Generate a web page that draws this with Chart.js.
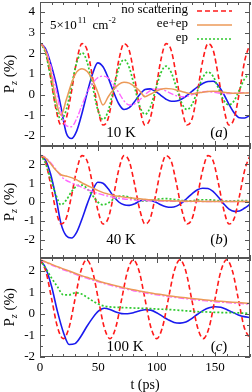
<!DOCTYPE html>
<html>
<head>
<meta charset="utf-8">
<script src="https://cdn.jsdelivr.net/npm/chart.js@4.4.1/dist/chart.umd.min.js"></script>
<style>
  body { margin: 0; background: #fff; width: 252px; height: 392px; position: relative; overflow: hidden; }
  canvas { position: absolute; left: 0; }
</style>
</head>
<body>
<!-- the y axis keeps ~5.65px above/below the plot, so canvases are shifted to put plot edges at 2/146/258/357 -->
<canvas id="chartA" width="252" height="156" style="top:-4px"></canvas>
<canvas id="chartB" width="252" height="124" style="top:140px"></canvas>
<canvas id="chartC" width="252" height="140" style="top:252px"></canvas>
<script>
// time axis (ps)
const tAB = [0,4.5,9,13.5,18,22.5,27,31.5,36,40.5,45,49.5,54,58.5,63,67.5,72,76.5,81,85.5,90,94.5,99,103.5,108,112.5,117,121.5,126,130.5,135,139.5,144,148.5,153,157.5,162,166.5,171,175.5,180];
const tC = [0,5,10,15,20,25,30,35,40,45,50,55,60,65,70,75,80,85,90,95,100,105,110,115,120,125,130,135,140,145,150,155,160,165,170,175,180];

const xTicks = [0, 50, 100, 150];
const yTicksA = [-2, -1, 0, 1, 2, 3, 4];
const yTicksB = [-2, -1, 0, 1, 2];
const yTicksC = [-2, -1, 0, 1, 2];

const seriesNames = ['no scattering', 'ee+ep', 'ep'];

// (a) 10 K
const redA = [2.5,2.14,0.85,-0.65,-1.47,-1.14,0.15,1.65,2.47,2.14,0.85,-0.65,-1.47,-1.14,0.15,1.65,2.47,2.14,0.85,-0.65,-1.47,-1.14,0.15,1.65,2.47,2.14,0.85,-0.65,-1.47,-1.14,0.15,1.65,2.47,2.14,0.85,-0.65,-1.47,-1.14,0.15,1.65,2.47];
const orangeA = [2.5,2.15,1.2,-0.2,-1.0,-0.25,0.55,1.1,1.26,1.12,0.72,0.12,-0.5,-0.1,0.25,0.5,0.6,0.56,0.4,0.18,-0.1,0.02,0.15,0.26,0.3,0.28,0.22,0.15,0.08,0.05,0.08,0.12,0.15,0.16,0.15,0.12,0.09,0.07,0.07,0.08,0.09];
const greenA = [2.5,2.05,0.9,-0.5,-1.2,-0.73,0.42,1.56,2.03,1.56,0.42,-0.73,-1.2,-0.78,0.25,1.28,1.7,1.31,0.38,-0.56,-0.95,-0.61,0.22,1.04,1.38,1.07,0.33,-0.41,-0.72,-0.45,0.19,0.83,1.1,0.87,0.3,-0.27,-0.5,-0.28,0.25,0.78,1.0];
const blueA = [2.5,2.25,1.55,0.6,-0.6,-1.85,-2.12,-1.75,-0.9,0.1,1.0,1.54,1.35,0.81,0.14,-0.44,-0.72,-0.63,-0.34,0.01,0.25,0.28,0.16,-0.03,-0.22,-0.32,-0.31,-0.21,-0.04,0.17,0.38,0.54,0.64,0.65,0.43,0.02,-0.47,-0.89,-1.12,-1.13,-1.0];
const magentaA = [2.5,2.2,1.45,0.3,-0.85,-1.5,-1.55,-1.15,-0.5,0.1,0.55,0.82,0.9,0.8,0.5,0.1,-0.3,-0.5,-0.45,-0.25,0.0,0.2,0.28,0.27,0.18,0.05,-0.05,-0.1,-0.08,0.0,0.08,0.14,0.15,0.12,0.08,0.05,0.05,0.07,0.09,0.1,0.1];

// (b) 40 K
const redB = [2.5,2.17,0.97,-0.41,-1.17,-0.87,0.33,1.71,2.47,2.17,0.97,-0.41,-1.17,-0.87,0.33,1.71,2.47,2.17,0.97,-0.41,-1.17,-0.87,0.33,1.71,2.47,2.17,0.97,-0.41,-1.17,-0.87,0.33,1.71,2.47,2.17,0.97,-0.41,-1.17,-0.87,0.33,1.71,2.47];
const orangeB = [2.5,2.35,2.05,1.7,1.45,1.38,1.3,1.18,1.02,0.88,0.75,0.62,0.5,0.42,0.35,0.3,0.26,0.22,0.2,0.17,0.14,0.12,0.1,0.08,0.07,0.06,0.05,0.05,0.04,0.04,0.04,0.03,0.03,0.03,0.03,0.03,0.03,0.03,0.03,0.03,0.03];
const greenB = [2.5,2.1,1.25,0.4,-0.15,0.1,0.55,0.85,0.9,0.7,0.35,0.0,-0.15,-0.05,0.15,0.3,0.32,0.25,0.15,0.07,0.05,0.08,0.13,0.17,0.18,0.16,0.12,0.08,0.06,0.07,0.1,0.12,0.12,0.1,0.07,0.05,0.05,0.06,0.08,0.08,0.07];
const blueB = [2.5,2.25,1.5,0.3,-1.15,-1.8,-1.92,-1.6,-0.9,-0.1,0.6,1.05,1.0,0.7,0.3,0.0,-0.15,-0.18,-0.1,0.05,0.12,0.1,0.0,-0.15,-0.25,-0.28,-0.22,-0.05,0.2,0.45,0.65,0.73,0.72,0.55,0.25,-0.1,-0.38,-0.5,-0.48,-0.32,-0.12];
const magentaB = [2.5,2.38,2.1,1.75,1.38,1.15,1.02,0.9,0.78,0.66,0.56,0.46,0.38,0.31,0.25,0.2,0.16,0.13,0.1,0.08,0.07,0.06,0.05,0.05,0.04,0.04,0.04,0.03,0.03,0.03,0.03,0.03,0.03,0.03,0.03,0.03,0.03,0.03,0.03,0.03,0.03];

// (c) 100 K
const redC = [2.5,1.97,0.68,-0.62,-1.15,-0.62,0.68,1.97,2.5,1.97,0.68,-0.62,-1.15,-0.62,0.68,1.97,2.5,1.97,0.68,-0.62,-1.15,-0.62,0.68,1.97,2.5,1.97,0.68,-0.62,-1.15,-0.62,0.68,1.97,2.5,1.97,0.68,-0.62,-1.15];
const orangeC = [2.5,2.4,2.29,2.18,2.08,1.98,1.88,1.78,1.69,1.61,1.52,1.44,1.37,1.3,1.23,1.17,1.11,1.06,1.01,0.96,0.92,0.88,0.84,0.8,0.77,0.74,0.71,0.68,0.65,0.63,0.6,0.58,0.56,0.54,0.52,0.5,0.48];
const greenC = [2.5,2.1,1.65,1.25,0.88,0.88,0.97,0.93,0.78,0.6,0.45,0.36,0.32,0.3,0.29,0.28,0.27,0.26,0.25,0.24,0.22,0.21,0.2,0.18,0.16,0.14,0.12,0.1,0.09,0.08,0.07,0.06,0.05,0.05,0.04,0.03,0.02];
const blueC = [2.5,2.1,1.25,0.1,-0.85,-1.42,-1.38,-1.05,-0.6,-0.2,0.12,0.26,0.2,0.08,0.01,0.0,0.05,0.13,0.19,0.17,0.05,-0.12,-0.28,-0.4,-0.43,-0.38,-0.22,-0.02,0.16,0.28,0.33,0.3,0.2,0.07,-0.05,-0.13,-0.17];
const magentaC = [2.5,2.38,2.26,2.15,2.04,1.94,1.84,1.74,1.65,1.56,1.48,1.4,1.33,1.26,1.19,1.13,1.07,1.02,0.97,0.92,0.88,0.84,0.8,0.76,0.73,0.7,0.67,0.64,0.61,0.59,0.56,0.54,0.52,0.5,0.48,0.46,0.44];

const SERIF = '"Liberation Serif", "DejaVu Serif", serif';
const RED = '#ff1a1a', ORANGE = '#ec9a58', GREEN = '#2ec82e', BLUE = '#1a1aee', MAGENTA = '#ff66ff';

const styles = {
    red:     { borderColor: RED, borderWidth: 1.6, borderDash: [5, 3] },
    orange:  { borderColor: ORANGE, borderWidth: 1.5, borderDash: [] },
    green:   { borderColor: GREEN, borderWidth: 1.7, borderDash: [2, 2] },
    blue:    { borderColor: BLUE, borderWidth: 1.6, borderDash: [] },
    magenta: { borderColor: MAGENTA, borderWidth: 1.4, borderDash: [6, 2, 2, 2] }
};

function toPoints(xs, ys) {
    return xs.map((t, i) => ({ x: t, y: ys[i] }));
}

// frame with inward ticks, plus the text drawn inside each panel
const panelDecor = {
    id: 'panelDecor',
    afterDatasetsDraw(chart, args, opts) {
        const { ctx, chartArea: a, scales: { x, y } } = chart;
        ctx.save();
        ctx.strokeStyle = '#555';
        ctx.lineWidth = 1;
        ctx.setLineDash([]);
        const top = Math.round(a.top), bot = Math.round(a.bottom);
        ctx.strokeRect(a.left + 0.5, top + 0.5, a.right - a.left - 1, bot - top - 1);
        ctx.beginPath();
        for (let v = 0; v <= 180; v += 10) {
            const px = Math.round(x.getPixelForValue(v)) + 0.5;
            const len = v % 50 === 0 ? 5 : 3;
            ctx.moveTo(px, top); ctx.lineTo(px, top + len);
            ctx.moveTo(px, bot); ctx.lineTo(px, bot - len);
        }
        for (let v = Math.ceil(y.min * 2) / 2; v <= y.max; v += 0.5) {
            const py = Math.round(y.getPixelForValue(v)) + 0.5;
            const len = Number.isInteger(v) ? 5 : 3;
            ctx.moveTo(a.left, py); ctx.lineTo(a.left + len, py);
            ctx.moveTo(a.right, py); ctx.lineTo(a.right - len, py);
        }
        ctx.stroke();

        ctx.fillStyle = '#000';
        ctx.textBaseline = 'middle';
        // temperature + panel tag
        ctx.font = '15px ' + SERIF;
        ctx.textAlign = 'center';
        ctx.fillText(opts.temp, opts.tempX, opts.textY);
        ctx.textAlign = 'left';
        const w1 = ctx.measureText('(').width;
        ctx.font = 'italic 15px ' + SERIF;
        const w2 = ctx.measureText(opts.tag).width;
        let tx = opts.tagX - (w1 * 2 + w2) / 2;
        ctx.font = '15px ' + SERIF;
        ctx.fillText('(', tx, opts.textY);
        ctx.font = 'italic 15px ' + SERIF;
        ctx.fillText(opts.tag, tx + w1, opts.textY);
        ctx.font = '15px ' + SERIF;
        ctx.fillText(')', tx + w1 + w2, opts.textY);

        // y axis title P_z (%)
        ctx.save();
        ctx.translate(10, (a.top + a.bottom) / 2);
        ctx.rotate(-Math.PI / 2);
        ctx.font = '15px ' + SERIF;
        const wp = ctx.measureText('P').width;
        ctx.font = 'italic 10px ' + SERIF;
        const wz = ctx.measureText('z').width;
        ctx.font = '15px ' + SERIF;
        const wr = ctx.measureText(' (%)').width;
        let sx = -(wp + wz + wr) / 2;
        ctx.fillText('P', sx, 0);
        ctx.font = 'italic 10px ' + SERIF;
        ctx.fillText('z', sx + wp, 4);
        ctx.font = '15px ' + SERIF;
        ctx.fillText(' (%)', sx + wp + wz, 0);
        ctx.restore();

        ctx.restore();
    }
};

// legend and density label, top panel only (canvas A sits 4px above the page)
const topNotes = {
    id: 'topNotes',
    afterDatasetsDraw(chart) {
        const { ctx } = chart;
        ctx.save();
        ctx.fillStyle = '#000';
        ctx.textBaseline = 'middle';
        ctx.textAlign = 'right';
        ctx.font = '13px ' + SERIF;
        const legendStyles = [styles.red, styles.orange, styles.green];
        const rows = [14, 28, 42];
        seriesNames.forEach((name, i) => {
            ctx.fillText(name, 188, rows[i]);
            const s = legendStyles[i];
            ctx.strokeStyle = s.borderColor;
            ctx.lineWidth = s.borderWidth;
            ctx.setLineDash(s.borderDash);
            ctx.beginPath();
            ctx.moveTo(197, rows[i] + 1);
            ctx.lineTo(232, rows[i] + 1);
            ctx.stroke();
        });
        ctx.setLineDash([]);

        // 5×10^11 cm^-2
        ctx.textAlign = 'left';
        ctx.textBaseline = 'alphabetic';
        let x = 50;
        ctx.font = '13px ' + SERIF;
        ctx.fillText('5\u00d710', x, 33);
        x += ctx.measureText('5\u00d710').width + 1;
        ctx.font = '9px ' + SERIF;
        ctx.fillText('11', x, 27);
        x += ctx.measureText('11').width + 6;
        ctx.font = '13px ' + SERIF;
        ctx.fillText('cm', x, 33);
        x += ctx.measureText('cm').width;
        ctx.font = '9px ' + SERIF;
        ctx.fillText('-2', x, 27);
        ctx.restore();
    }
};

function makePanel(id, xs, data, yMin, yMax, yTicks, decor, isBottom, extraPlugins) {
    const order = ['orange', 'magenta', 'green', 'red', 'blue'];
    const datasets = order.map(k => Object.assign({
        data: toPoints(xs, data[k]),
        pointRadius: 0,
        pointHoverRadius: 0,
        fill: false,
        cubicInterpolationMode: 'monotone'
    }, styles[k]));

    const xScale = {
        type: 'linear', min: 0, max: 180,
        display: isBottom,
        afterBuildTicks: s => { s.ticks = xTicks.map(v => ({ value: v })); },
        grid: { display: false, drawTicks: false },
        border: { display: false },
        ticks: { font: { family: SERIF, size: 13 }, color: '#000', padding: 3, maxRotation: 0 },
        title: { display: true, text: 't (ps)', color: '#000', font: { family: SERIF, size: 14, lineHeight: 1 }, padding: 0 }
    };
    if (isBottom) xScale.afterFit = s => { s.height = 35; };

    return new Chart(document.getElementById(id), {
        type: 'line',
        data: { datasets },
        options: {
            responsive: false,
            animation: false,
            devicePixelRatio: 1,
            layout: { autoPadding: false, padding: { top: 2, right: 2, bottom: 0, left: 0 } },
            plugins: { legend: { display: false }, tooltip: { enabled: false }, panelDecor: decor },
            scales: {
                x: xScale,
                y: {
                    min: yMin, max: yMax,
                    afterFit: s => { s.width = 40; },
                    afterBuildTicks: s => { s.ticks = yTicks.map(v => ({ value: v })); },
                    grid: { display: false, drawTicks: false },
                    border: { display: false },
                    ticks: { font: { family: SERIF, size: 13, lineHeight: 0.1 }, color: '#000', padding: 5 }
                }
            }
        },
        plugins: [panelDecor].concat(extraPlugins || [])
    });
}

makePanel('chartA', tAB,
    { red: redA, orange: orangeA, green: greenA, blue: blueA, magenta: magentaA },
    -2.5, 4.5, yTicksA,
    { temp: '10 K', tag: 'a', tempX: 121, tagX: 219, textY: 137 },
    false, [topNotes]);

makePanel('chartB', tAB,
    { red: redB, orange: orangeB, green: greenB, blue: blueB, magenta: magentaB },
    -3, 3, yTicksB,
    { temp: '40 K', tag: 'b', tempX: 121, tagX: 219, textY: 100 },
    false);

makePanel('chartC', tC,
    { red: redC, orange: orangeC, green: greenC, blue: blueC, magenta: magentaC },
    -2, 2.6, yTicksC,
    { temp: '100 K', tag: 'c', tempX: 125, tagX: 219, textY: 95 },
    true);
</script>
</body>
</html>
